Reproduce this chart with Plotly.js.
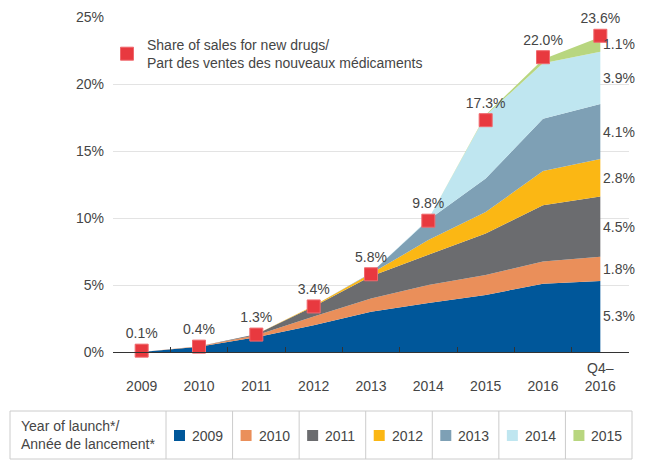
<!DOCTYPE html>
<html>
<head>
<meta charset="utf-8">
<script src="https://cdn.plot.ly/plotly-3.0.1.min.js"></script>
<style>
html,body{margin:0;padding:0;background:#fff;}
#chart{width:650px;height:468px;}
</style>
</head>
<body>
<div id="chart"></div>
<script>
// ---- data ----
const categories = ['2009','2010','2011','2012','2013','2014','2015','2016','Q4–2016'];
const tickLabels = ['2009','2010','2011','2012','2013','2014','2015','2016','Q4–<br>2016'];
const launchYears = ['2009','2010','2011','2012','2013','2014','2015'];
const s2009 = [0, 0.4, 1.1, 2.0, 3.0, 3.65, 4.25, 5.1, 5.3];
const s2010 = [0, 0.02, 0.15, 0.65, 1.0, 1.35, 1.5, 1.65, 1.8];
const s2011 = [0, 0, 0.08, 0.75, 1.65, 2.25, 3.1, 4.2, 4.5];
const s2012 = [0, 0, 0, 0.05, 0.2, 1.1, 1.6, 2.55, 2.8];
const s2013 = [0, 0, 0, 0, 0.05, 1.5, 2.5, 3.9, 4.1];
const s2014 = [0, 0, 0, 0, 0, 0.05, 4.7, 4.15, 3.9];
const s2015 = [0, 0, 0, 0, 0, 0, 0.05, 0.3, 1.1];
const shareNew = [0.1, 0.4, 1.3, 3.4, 5.8, 9.8, 17.3, 22.0, 23.6];
const shareName = 'Share of sales for new drugs/<br>Part des ventes des nouveaux médicaments';
const tableTitle = 'Year of launch*/<br>Année de lancement*';

// ---- styles ----
const series = [s2009, s2010, s2011, s2012, s2013, s2014, s2015];
const colors = ['#00579a', '#ea8f5a', '#6b6c6f', '#fbb714', '#7ea0b5', '#bfe6f0', '#b8d67f'];
const markerColor = '#e8393f';
const textColor = '#454545';
const FONT = 'Liberation Sans, Arial, Helvetica, sans-serif';

const W = 650, H = 468, ml = 113, mr = 21, mt = 17, mb = 116;
const pw = W - ml - mr, ph = H - mt - mb;
const px = x => (x - ml) / pw;
const py = y => (H - mb - y) / ph;

const traces = series.map((s, i) => ({
  type: 'scatter', mode: 'none', x: categories, y: s,
  stackgroup: 'one', fillcolor: colors[i], line: {width: 0},
  name: launchYears[i], showlegend: false, hoverinfo: 'skip'
}));

traces.push({
  type: 'scatter', mode: 'markers+text', x: categories, y: shareNew,
  name: shareName,
  text: shareNew.map(v => v.toFixed(1) + '%'),
  textposition: 'top center',
  textfont: {size: 14, color: textColor, family: FONT},
  marker: {symbol: 'square', size: 13, color: markerColor, line: {width: 1, color: '#f0686d'}},
  cliponaxis: false, showlegend: true
});

const annotations = [];
const shapes = [];

// right-side labels from last values
const last = categories.length - 1;
let cum = 0;
series.forEach((s, i) => {
  const v = s[last];
  annotations.push({
    xref: 'x', yref: 'y', x: last, y: cum + v / 2,
    text: v.toFixed(1) + '%', showarrow: false, xanchor: 'left', yanchor: 'middle',
    xshift: 1, font: {size: 14, color: textColor, family: FONT}
  });
  cum += v;
});

// bottom table legend
const tL = 10, tR = 632, tT = 411, tB = 459, firstW = 156;
const lineStyle = {color: '#cccccc', width: 1};
shapes.push({type: 'rect', xref: 'paper', yref: 'paper', x0: px(tL), x1: px(tR), y0: py(tB), y1: py(tT), line: lineStyle});
const cellW = (tR - tL - firstW) / launchYears.length;
annotations.push({
  xref: 'paper', yref: 'paper', x: px(tL + 9), y: py((tT + tB) / 2), xanchor: 'left', yanchor: 'middle',
  align: 'left', text: tableTitle, showarrow: false, font: {size: 14, color: textColor, family: FONT}
});
launchYears.forEach((yr, i) => {
  const cl = tL + firstW + i * cellW;
  shapes.push({type: 'line', xref: 'paper', yref: 'paper', x0: px(cl), x1: px(cl), y0: py(tB), y1: py(tT), line: lineStyle});
  shapes.push({type: 'rect', xref: 'paper', yref: 'paper', x0: px(cl + 8), x1: px(cl + 19), y0: py(441), y1: py(430), fillcolor: colors[i], line: {width: 0}});
  annotations.push({
    xref: 'paper', yref: 'paper', x: px(cl + 24), y: py(435.5), xanchor: 'left', yanchor: 'middle',
    text: yr, showarrow: false, font: {size: 14, color: textColor, family: FONT}
  });
});

const layout = {
  width: W, height: H,
  margin: {l: ml, r: mr, t: mt, b: mb, pad: 0},
  paper_bgcolor: '#ffffff', plot_bgcolor: '#ffffff',
  font: {family: FONT, size: 14, color: textColor},
  showlegend: true,
  legend: {x: px(107), y: py(29), xanchor: 'left', yanchor: 'top', bgcolor: 'rgba(0,0,0,0)',
           font: {size: 14, color: textColor, family: FONT}, itemclick: false},
  xaxis: {
    type: 'category', categoryorder: 'array', categoryarray: categories,
    range: [-0.5, categories.length - 0.5],
    tickmode: 'array', tickvals: categories,
    ticktext: tickLabels.map(t => t.indexOf('<br>') >= 0 ? t : '&nbsp;<br>' + t),
    tickson: 'boundaries', ticks: 'inside', ticklen: 5, tickcolor: '#333', tickwidth: 1,
    showline: true, linecolor: '#333', linewidth: 1, showgrid: false, zeroline: false,
    tickfont: {size: 14, color: textColor, family: FONT}, ticklabelstandoff: 3, fixedrange: true
  },
  yaxis: {
    range: [0, 25], dtick: 5, tick0: 0, ticksuffix: '%',
    showgrid: true, gridcolor: '#e3e3e3', gridwidth: 1, zeroline: false, showline: false,
    ticks: '', ticklabelstandoff: 8,
    tickfont: {size: 14, color: textColor, family: FONT}, fixedrange: true
  },
  shapes: shapes,
  annotations: annotations
};

Plotly.newPlot('chart', traces, layout, {displayModeBar: false, staticPlot: true});
</script>
</body>
</html>
